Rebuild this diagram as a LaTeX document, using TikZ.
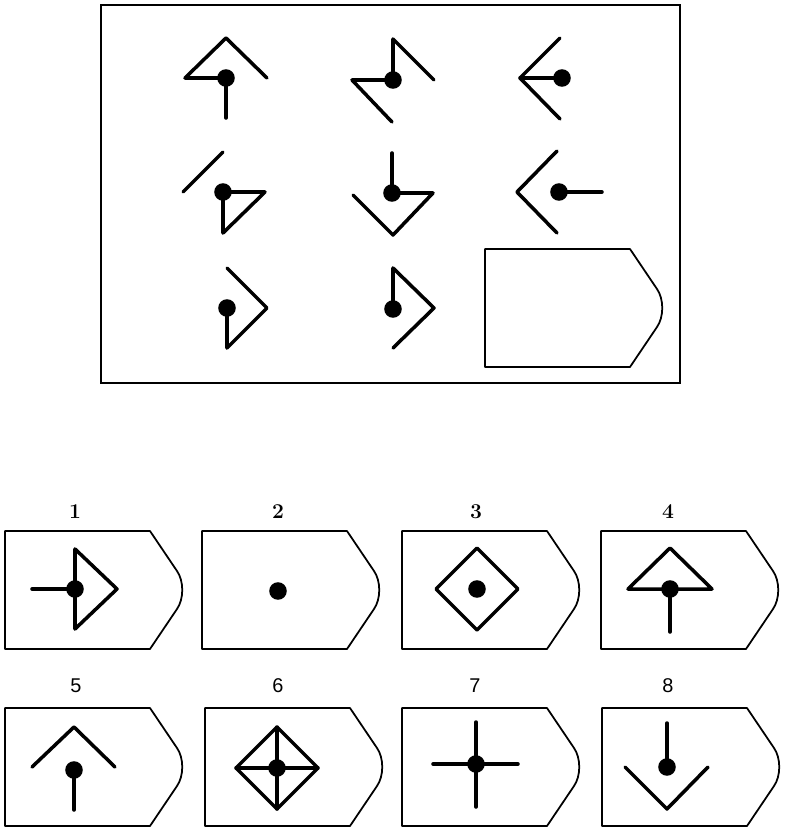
\documentclass[tikz,border=0pt]{standalone}
\usepackage{fontspec}
\setsansfont{Liberation Sans}
\begin{document}
\begin{tikzpicture}[x=0.03cm, y=-0.03cm]
    % Styles
    \tikzstyle{figline} = [line width=3pt, line cap=round, line join=round]
    \tikzstyle{dot} = [fill=black]
    \tikzstyle{slotline} = [line width=1.5pt, line join=round]
    \tikzstyle{frameline} = [line width=1.7pt]
    \tikzstyle{serifnum} = [font=\fontsize{18}{20}\selectfont\bfseries]
    \tikzstyle{sansnum} = [font=\fontsize{17}{20}\selectfont\sffamily]
    \tikzset{slot/.pic={
        \draw [slotline] (0,0) -- (145,0) -- (172,40)
            .. controls (179,50) and (179,68) .. (172,78)
            -- (145,118) -- (0,118) -- cycle;}}
    \useasboundingbox (0,0) rectangle (787,834);

    % === MATRIX FRAME ===
    \draw [frameline] (101,5) rectangle (680,383);

    % === ROW 1 ===
    \coordinate (c11) at (226,78);
    \coordinate (c12) at (393,80);
    \coordinate (c13) at (562,78);
    \draw [figline] (c11) -- ++(-41,0) -- ++(41,-40) -- ++(41,40);
    \draw [figline] (c11) -- ++(0,40);
    \draw [figline] (c12) -- ++(0,-41) -- ++(41,41);
    \draw [figline] (c12) -- ++(-41,0) -- ++(40,42);
    \draw [figline] (c13) -- ++(-42,0);
    \draw [figline] (c13) ++(-2,-40) -- ++(-40,40) -- ++(40,41);

    % === ROW 2 ===
    \coordinate (c21) at (223,192);
    \coordinate (c22) at (392,193);
    \coordinate (c23) at (559,192);
    \draw [figline] (c21) -- ++(42,0) -- ++(-42,41) -- cycle;
    \draw [figline] (c21) ++(-40,0) -- ++(40,-40);
    \draw [figline] (c22) -- ++(0,-40);
    \draw [figline] (c22) -- ++(41,0) -- ++(-40,42) -- ++(-40,-40);
    \draw [figline] (c23) -- ++(43,0);
    \draw [figline] (c23) ++(-2,-41) -- ++(-40,41) -- ++(40,41);

    % === ROW 3 ===
    \coordinate (c31) at (227,308);
    \coordinate (c32) at (393,309);
    \draw [figline] (c31) ++(0,-40) -- ++(40,40) -- ++(-40,40) -- (c31);
    \draw [figline] (c32) -- ++(0,-41) -- ++(41,40) -- ++(-41,40);
    \pic at (485,249) {slot};

    \foreach \c in {c11,c12,c13,c21,c22,c23,c31,c32}
        \fill [dot] (\c) circle [radius=7.5pt];

    % === OPTIONS ===
    \pic at (5,531) {slot};
    \pic at (202,531) {slot};
    \pic at (402,531) {slot};
    \pic at (601,531) {slot};
    \pic at (5,708) {slot};
    \pic at (205,708) {slot};
    \pic at (402,708) {slot};
    \pic at (602,708) {slot};

    \coordinate (o1) at (75,589);
    \coordinate (o2) at (278,591);
    \coordinate (o3) at (477,589);
    \coordinate (o4) at (670,589);
    \coordinate (o5) at (74,770);
    \coordinate (o6) at (277,768);
    \coordinate (o7) at (476,764);
    \coordinate (o8) at (667,767);

    \draw [figline] (o1) ++(0,-40) -- ++(42,40) -- ++(-42,40) -- cycle;
    \draw [figline] (o1) -- ++(-43,0);
    \draw [figline] (o3) ++(0,-41) -- ++(41,41) -- ++(-41,41) -- ++(-41,-41) -- cycle;
    \draw [figline] (o4) ++(-42,0) -- ++(42,-41) -- ++(42,41) -- cycle;
    \draw [figline] (o4) -- ++(0,43);
    \draw [figline] (o5) ++(-42,-3) -- ++(42,-40) -- ++(41,40);
    \draw [figline] (o5) -- ++(0,40);
    \draw [figline] (o6) ++(0,-41) -- ++(41,41) -- ++(-41,41) -- ++(-41,-41) -- cycle;
    \draw [figline] (o6) ++(0,-41) -- ++(0,82);
    \draw [figline] (o6) ++(-41,0) -- ++(82,0);
    \draw [figline] (o7) ++(0,-42) -- ++(0,85);
    \draw [figline] (o7) ++(-43,0) -- ++(85,0);
    \draw [figline] (o8) -- ++(0,-44);
    \draw [figline] (o8) ++(-42,0) -- ++(42,42) -- ++(41,-42);

    \foreach \o in {o1,o2,o3,o4,o5,o6,o7,o8}
        \fill [dot] (\o) circle [radius=7.5pt];

    % === Labels ===
    \node [serifnum] (n1) at (75,512) {1};
    \node [serifnum] (n2) at (278,512) {2};
    \node [serifnum] (n3) at (476,512) {3};
    \node [serifnum] (n4) at (668,512) {4};
    \node [sansnum] (n5) at (76,686) {5};
    \node [sansnum] (n6) at (278,686) {6};
    \node [sansnum] (n7) at (475,686) {7};
    \node [sansnum] (n8) at (668,686) {8};
\end{tikzpicture}
\end{document}
